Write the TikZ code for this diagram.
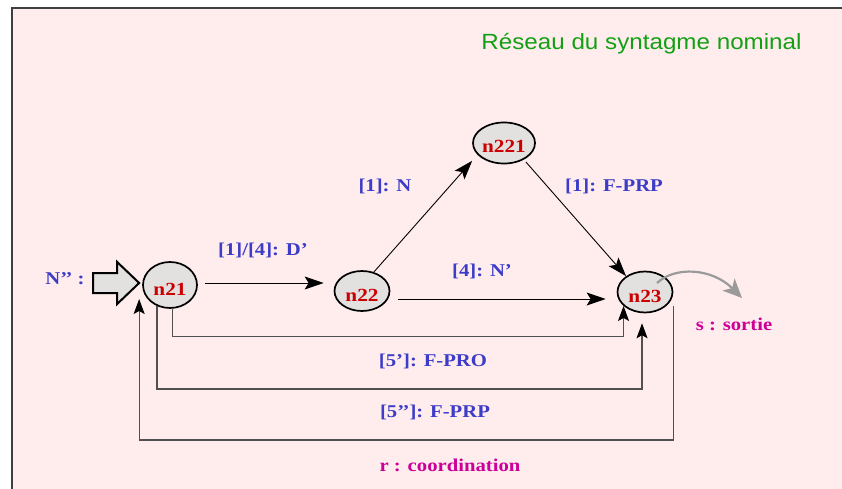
\documentclass[tikz,border=0pt]{standalone}
\usepackage{fontspec}
\usetikzlibrary{arrows.meta,calc,shapes.geometric}
\newfontfamily\lblfont{Liberation Serif}[FakeStretch=1.15]
\newfontfamily\ttlfont{Liberation Sans}[FakeStretch=1.1]
\definecolor{bgpink}{HTML}{FFEDED}
\definecolor{lblblue}{HTML}{3C3CC8}
\definecolor{nodered}{HTML}{CC0000}
\definecolor{magentalbl}{HTML}{CC0099}
\definecolor{ttlgreen}{HTML}{14A014}
\definecolor{nodegray}{HTML}{E3E0E0}
\definecolor{loopgray}{HTML}{505050}
\definecolor{sortiegray}{HTML}{9A9A9A}
\begin{document}
\begin{tikzpicture}[x=1pt,y=-1pt,
  state/.style={ellipse, draw=black, line width=1.7pt, fill=nodegray, inner sep=0pt,
    text height=20pt, text depth=0pt, text=nodered,
    font=\lblfont\bfseries\fontsize{18.5}{20}\selectfont},
  lbl/.style={anchor=base, inner sep=0pt, text=lblblue,
    font=\lblfont\bfseries\fontsize{18}{20}\selectfont},
  mlbl/.style={lbl, text=magentalbl},
  edge/.style={draw=black, line width=0.9pt, -{Stealth[length=19pt,width=13pt,inset=4pt]}},
  loopline/.style={draw=loopgray, line width=1.3pt, -{Stealth[length=15pt,width=11pt,inset=3pt,color=black]}},
  sortie/.style={draw=sortiegray, line width=2.2pt, -{Stealth[length=19pt,width=17pt,inset=5pt]}},
  entry/.style={draw=black, line width=2pt, fill=nodegray, line join=miter}
]
\useasboundingbox (0,0) rectangle (842,489);
\fill[white] (0,0) rectangle (842,489);
\fill[bgpink] (12,8) rectangle (842,489);
\draw[black!75, line width=1.4pt] (12,489) -- (12,8) -- (842,8);

\node[anchor=base, inner sep=0pt, text=ttlgreen, font=\ttlfont\fontsize{22}{26}\selectfont] (title) at (641.5,49.5) {Réseau du syntagme nominal};

\node[state, minimum width=54pt, minimum height=46pt] (n21) at (170,285) {n21};
\node[state, minimum width=55pt, minimum height=40pt] (n22) at (362,291) {n22};
\node[state, minimum width=62pt, minimum height=41pt] (n221) at (504,143) {n221};
\node[state, minimum width=55pt, minimum height=41pt] (n23) at (645,292) {n23};

% entry arrow
\coordinate (ntip) at ([xshift=-3pt,yshift=2pt]n21.west);
\draw[entry] (ntip) -- ++(-22,-21) -- ++(0,11) -- ++(-24,0) -- ++(0,20) -- ++(24,0) -- ++(0,11) -- cycle;
\node[lbl] (nlab) at (65,284) {N’’ :};

% edges
\draw[edge, shorten <=7pt, shorten >=10pt] ([yshift=2pt]n21.east) -- ([yshift=2pt]n21.east -| n22.west);
\draw[edge, shorten <=8pt, shorten >=11pt] ([yshift=-8pt]n22.east) -- ([yshift=-8pt]n22.east -| n23.west);
\draw[edge, shorten >=8pt] (n22.58) -- (n221.204);
\draw[edge, shorten <=3pt] (n221.-40) -- (n23.140);

% loops
\draw[loopline] (n21.-84) -- ++(0,28) -| (n23.213);
\draw[loopline, shorten >=10pt] (n21.-122) -- ++(0,83) -| (n23.-98);
\draw[loopline] ([yshift=-14pt]n23.east) -- ++(0,134) -| ([xshift=-3pt,yshift=-14pt]n21.west);

% sortie
\coordinate (sout) at (742,298);
\draw[sortie] ($(n23.center)+(12,-9)$) .. controls +(18,-17) and +(-30,-30) .. (sout);

% labels
\node[lbl] (l1) at (263,255) {[1]/[4]: D’};
\node[lbl] (l2) at (385,191.5) {[1]: N};
\node[lbl] (l3) at (614,191.5) {[1]: F-PRP};
\node[lbl] (l4) at (482,276.5) {[4]: N’};
\node[lbl] (l5) at (433,366) {[5’]: F-PRO};
\node[lbl] (l6) at (435,417.5) {[5’’]: F-PRP};
\node[mlbl] (l7) at (450,471.5) {r : coordination};
\node[mlbl] (l8) at (734,330) {s : sortie};
\end{tikzpicture}
\end{document}
